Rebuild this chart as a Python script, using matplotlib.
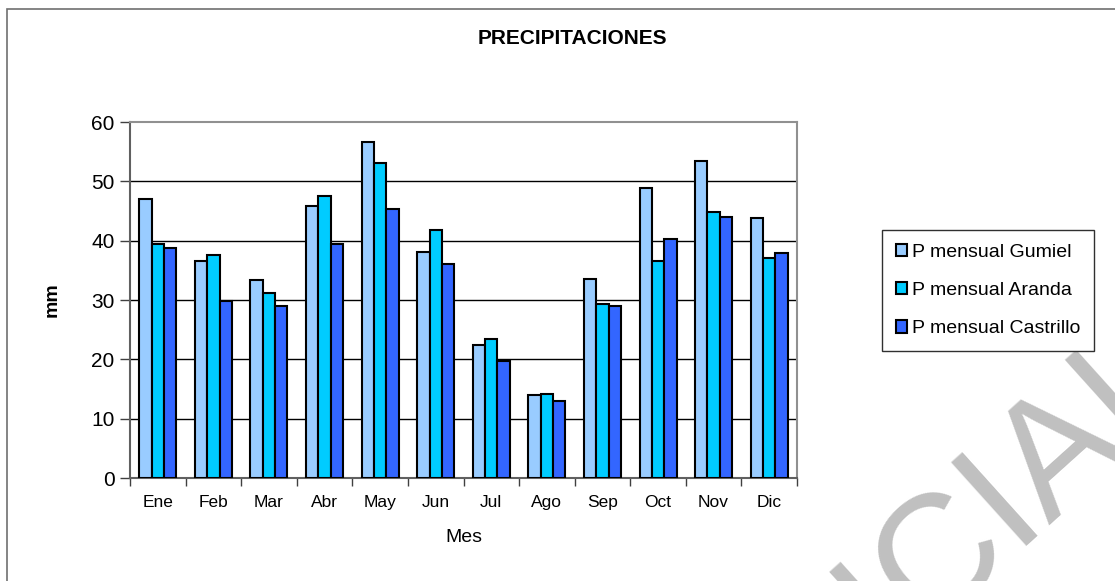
import matplotlib
matplotlib.use('Agg')
import numpy as np
import matplotlib.pyplot as plt
from matplotlib.patches import Rectangle, Patch

plt.rcParams['font.family'] = ['Liberation Sans', 'DejaVu Sans']

# Datos de precipitacion mensual (mm)
meses = ['Ene', 'Feb', 'Mar', 'Abr', 'May', 'Jun', 'Jul', 'Ago', 'Sep', 'Oct', 'Nov', 'Dic']
gumiel = [47.0, 36.5, 33.4, 45.9, 56.7, 38.1, 22.4, 14.0, 33.5, 48.9, 53.4, 43.8]
aranda = [39.4, 37.6, 31.2, 47.5, 53.1, 41.8, 23.5, 14.2, 29.4, 36.6, 44.9, 37.1]
castrillo = [38.7, 29.9, 29.0, 39.4, 45.3, 36.0, 19.8, 13.0, 29.0, 40.3, 44.0, 37.9]

series = [('P mensual Gumiel', gumiel, '#99CCFF'),
          ('P mensual Aranda', aranda, '#00CCFF'),
          ('P mensual Castrillo', castrillo, '#3366FF')]

W, H = 1115, 581
fig = plt.figure(figsize=(W / 100, H / 100), dpi=100)
fig.patch.set_facecolor('white')

# marco exterior del grafico
fig.patches.append(Rectangle((7 / W, -0.2), 2, (H - 9) / H + 0.2, transform=fig.transFigure,
                             fill=False, edgecolor='#707070', linewidth=1.2))

# marca de agua (queda cortada por el borde, como en el original)
fig.text(932 / W, 1 - 568 / H, 'OFICIAL', fontsize=118, color='#C0C0C0', rotation=42,
         ha='center', va='center', rotation_mode='anchor', zorder=0)

ax = fig.add_axes([130 / W, 1 - 478 / H, 667 / W, 356 / H])

x = np.arange(len(meses))
bw = 0.222
for i, (name, vals, col) in enumerate(series):
    ax.bar(x + (i - 1) * bw, vals, bw, color=col, edgecolor='black', linewidth=1.5,
           label=name, zorder=3)

ax.set_xlim(-0.5, 11.5)
ax.set_ylim(0, 60)
ax.set_yticks(range(0, 61, 10))
ax.set_xticks(x)
ax.set_xticklabels(meses, fontsize=12.5)
ax.set_xticks(np.arange(-0.5, 12, 1), minor=True)
ax.tick_params(axis='x', which='major', length=0, pad=12)
ax.tick_params(axis='x', which='minor', length=6, width=1, color='#404040', direction='out')
ax.tick_params(axis='y', labelsize=15, length=7, width=1, color='#404040', pad=4)

for yv in range(10, 60, 10):
    ax.axhline(yv, color='black', linewidth=1, zorder=1)

for s in ['top', 'right']:
    ax.spines[s].set_color('#909090')
    ax.spines[s].set_linewidth(1.5)
for s in ['left', 'bottom']:
    ax.spines[s].set_color('#606060')
    ax.spines[s].set_linewidth(1.5)

ax.set_xlabel('Mes', fontsize=14, labelpad=14)
ax.set_ylabel('mm', fontsize=14, fontweight='bold', labelpad=22)
fig.text(572 / W, 1 - 39 / H, 'PRECIPITACIONES', fontsize=15, fontweight='bold',
         ha='center', va='center')

handles = [Patch(facecolor=c, edgecolor='black', linewidth=1.5, label=n) for n, v, c in series]
leg = fig.legend(handles=handles, loc='upper left', bbox_to_anchor=(882 / W, 1 - 230 / H),
                 fontsize=14, frameon=True, fancybox=False, shadow=False,
                 handlelength=0.6, handleheight=0.6, handletextpad=0.25,
                 labelspacing=1.1, borderpad=0.7, borderaxespad=0)
leg.get_frame().set_edgecolor('#303030')
leg.get_frame().set_linewidth(1)
leg.get_frame().set_alpha(1)
leg.set_zorder(5)

fig.savefig('out.png', dpi=100)
